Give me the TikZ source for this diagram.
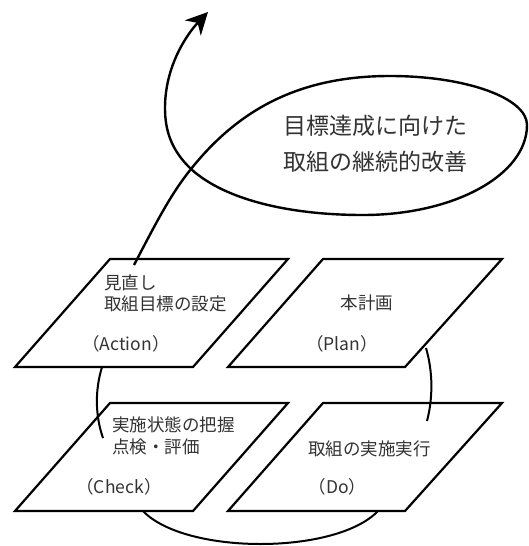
\documentclass[tikz,border=0pt]{standalone}
\usepackage{fontspec}
\setmainfont{Noto Sans CJK JP}
\usetikzlibrary{arrows.meta}
\begin{document}
\begin{tikzpicture}[x=1pt,y=-1pt,
  box/.style={draw=black, line width=2.2pt, fill=white, line join=miter},
  link/.style={draw=black, line width=2pt},
  spiral/.style={draw=black, line width=2.4pt, -{Stealth[length=22pt,width=22pt,inset=7pt]}},
  lbl/.style={font=\fontsize{17.5}{21.5}\selectfont, text=black!80, inner sep=0pt, align=left},
  big/.style={font=\fontsize{23}{36}\selectfont, text=black!80, inner sep=0pt, align=center}]
\useasboundingbox (0,0) rectangle (529,546);

% parallelogram boxes
\draw[box] (110,259) coordinate (A1) -- (288,259) -- (193,367) -- (15,367) -- cycle;
\draw[box] (323,259) coordinate (P1) -- (502,259) -- (405,367) -- (228,367) -- cycle;
\draw[box] (110,403) coordinate (C1) -- (288,403) -- (193,511) -- (15,511) -- cycle;
\draw[box] (323,403) coordinate (D1) -- (502,403) -- (405,511) -- (228,511) -- cycle;

% labels
\node[lbl, anchor=west] (actT) at (104,293.5) {見直し\\取組目標の設定};
\node[lbl] (actE) at (126,344) {（Action）};
\node[lbl] (plnT) at (367,303) {本計画};
\node[lbl] (plnE) at (342,344) {（Plan）};
\node[lbl, anchor=west] (chkT) at (112,436) {実施状態の把握\\点検・評価};
\node[lbl] (chkE) at (119,487) {（Check）};
\node[lbl] (doT) at (369.5,449) {取組の実施実行};
\node[lbl] (doE) at (337.5,487) {（Do）};

\node[big] (goal) at (375,144) {目標達成に向けた\\取組の継続的改善};

% cycle arcs
\coordinate (aBot) at (102,367);
\coordinate (cIn) at (103,438);
\coordinate (pEdge) at (426,348);
\coordinate (dIn) at (427,421);
\coordinate (cBot) at (143,511);
\coordinate (dBot) at (378,511);
\draw[link] (aBot) .. controls (95,390) and (95,415) .. (cIn);
\draw[link] (pEdge) .. controls (433,372) and (433,398) .. (dIn);
\draw[link] (cBot) .. controls (185,555) and (336,555) .. (dBot);

% spiral arrow
\coordinate (sStart) at (134,265);
\coordinate (cross) at (191,169);
\coordinate (tip) at (208,12);
\draw[spiral] (sStart) .. controls (155,225) and (170,195) .. (cross)
  .. controls (239,109) and (300,76) .. (390,76)
  .. controls (466,76) and (527,98) .. (527,125)
  .. controls (527,175) and (454,215) .. (363,215)
  .. controls (290,215) and (225,200) .. (cross)
  .. controls (171,150) and (165,130) .. (165,108)
  .. controls (165,65) and (188,33) .. (tip);
\end{tikzpicture}
\end{document}
